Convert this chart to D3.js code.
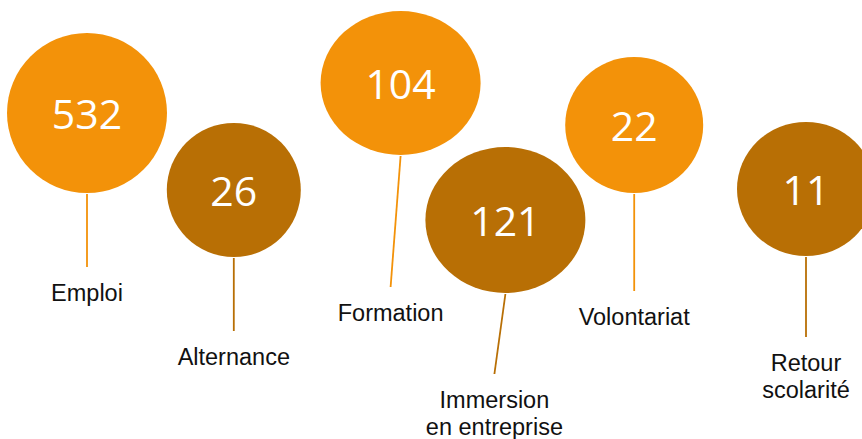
<!DOCTYPE html>
<html>
<head>
<meta charset="utf-8">
<script src="https://cdn.jsdelivr.net/npm/d3@7"></script>
<style>
  html, body { margin: 0; padding: 0; background: #fff; overflow: hidden; }
  .value { font-family: 'Open Sans', sans-serif; fill: #fff; }
  .label { font-family: 'Liberation Sans', Arial, sans-serif; fill: #111; }
</style>
</head>
<body>
<div id="chart"></div>
<script>
// data
const categories = ['Emploi', 'Alternance', 'Formation', 'Immersion en entreprise', 'Volontariat', 'Retour scolarité'];
const labelLines = [['Emploi'], ['Alternance'], ['Formation'], ['Immersion', 'en entreprise'], ['Volontariat'], ['Retour', 'scolarité']];
const values = [532, 26, 104, 121, 22, 11];
const tones = ['light', 'dark', 'light', 'dark', 'light', 'dark'];

// layout of the bubbles (design, not data)
const nudgeX = [0, 3, 26, -13, -28, 0];
const centerY = [113, 190, 83, 220, 125, 189];
const radiusX = [80, 67, 80, 80, 69, 69];
const radiusY = [80, 67, 72, 73, 68, 67];
const stemLength = [73, 73, 131, 80, 97, 80];
const stemSlant = [0, 0, -10, -11, 0, 0];

class bubbleChart {

  constructor(opts) {
    this.element = opts.element;
    this.draw();
  }

  draw() {
    this.width = 862;
    this.height = 439;

    const svg = d3.select(this.element).append('svg')
      .attr('width', this.width)
      .attr('height', this.height);

    this.plot = svg.append('g');

    this.rows = categories.map((c, i) => ({
      key: c,
      lines: labelLines[i],
      value: values[i],
      tone: tones[i],
      i: i
    }));

    this.createScales();
    this.addStems();
    this.addBubbles();
    this.addLabels();
  }

  createScales() {
    this.xScale = d3.scalePoint()
      .domain(categories)
      .range([87, 806]);

    this.colorScale = d3.scaleOrdinal()
      .domain(['light', 'dark'])
      .range(['#F39209', '#B86F05']);
  }

  cx(d) { return this.xScale(d.key) + nudgeX[d.i]; }
  stemTop(d) { return centerY[d.i] + radiusY[d.i] + 1; }
  stemBottom(d) { return this.stemTop(d) + stemLength[d.i]; }

  addStems() {
    this.plot.selectAll('.stem')
      .data(this.rows)
      .enter().append('line')
        .attr('class', 'stem')
        .attr('x1', d => this.cx(d))
        .attr('y1', d => this.stemTop(d))
        .attr('x2', d => this.cx(d) + stemSlant[d.i])
        .attr('y2', d => this.stemBottom(d))
        .attr('stroke', d => this.colorScale(d.tone))
        .attr('stroke-width', 1.8);
  }

  addBubbles() {
    this.plot.selectAll('.bubble')
      .data(this.rows)
      .enter().append('ellipse')
        .attr('class', 'bubble')
        .attr('cx', d => this.cx(d))
        .attr('cy', d => centerY[d.i])
        .attr('rx', d => radiusX[d.i])
        .attr('ry', d => radiusY[d.i])
        .attr('fill', d => this.colorScale(d.tone));

    this.plot.selectAll('.value')
      .data(this.rows)
      .enter().append('text')
        .attr('class', 'value')
        .attr('x', d => this.cx(d))
        .attr('y', d => centerY[d.i] + 16)
        .attr('text-anchor', 'middle')
        .style('font-size', '41px')
        .text(d => d.value);
  }

  addLabels() {
    const labels = this.plot.selectAll('.label')
      .data(this.rows)
      .enter().append('text')
        .attr('class', 'label')
        .attr('text-anchor', 'middle')
        .style('font-size', '23.5px')
        .attr('transform', d =>
          `translate(${this.cx(d) + stemSlant[d.i]},${this.stemBottom(d) + 34})`);

    labels.selectAll('tspan')
      .data(d => d.lines)
      .enter().append('tspan')
        .attr('x', 0)
        .attr('y', (t, j) => j * 27)
        .text(t => t);
  }

}

new bubbleChart({ element: document.getElementById('chart') });
</script>
</body>
</html>
